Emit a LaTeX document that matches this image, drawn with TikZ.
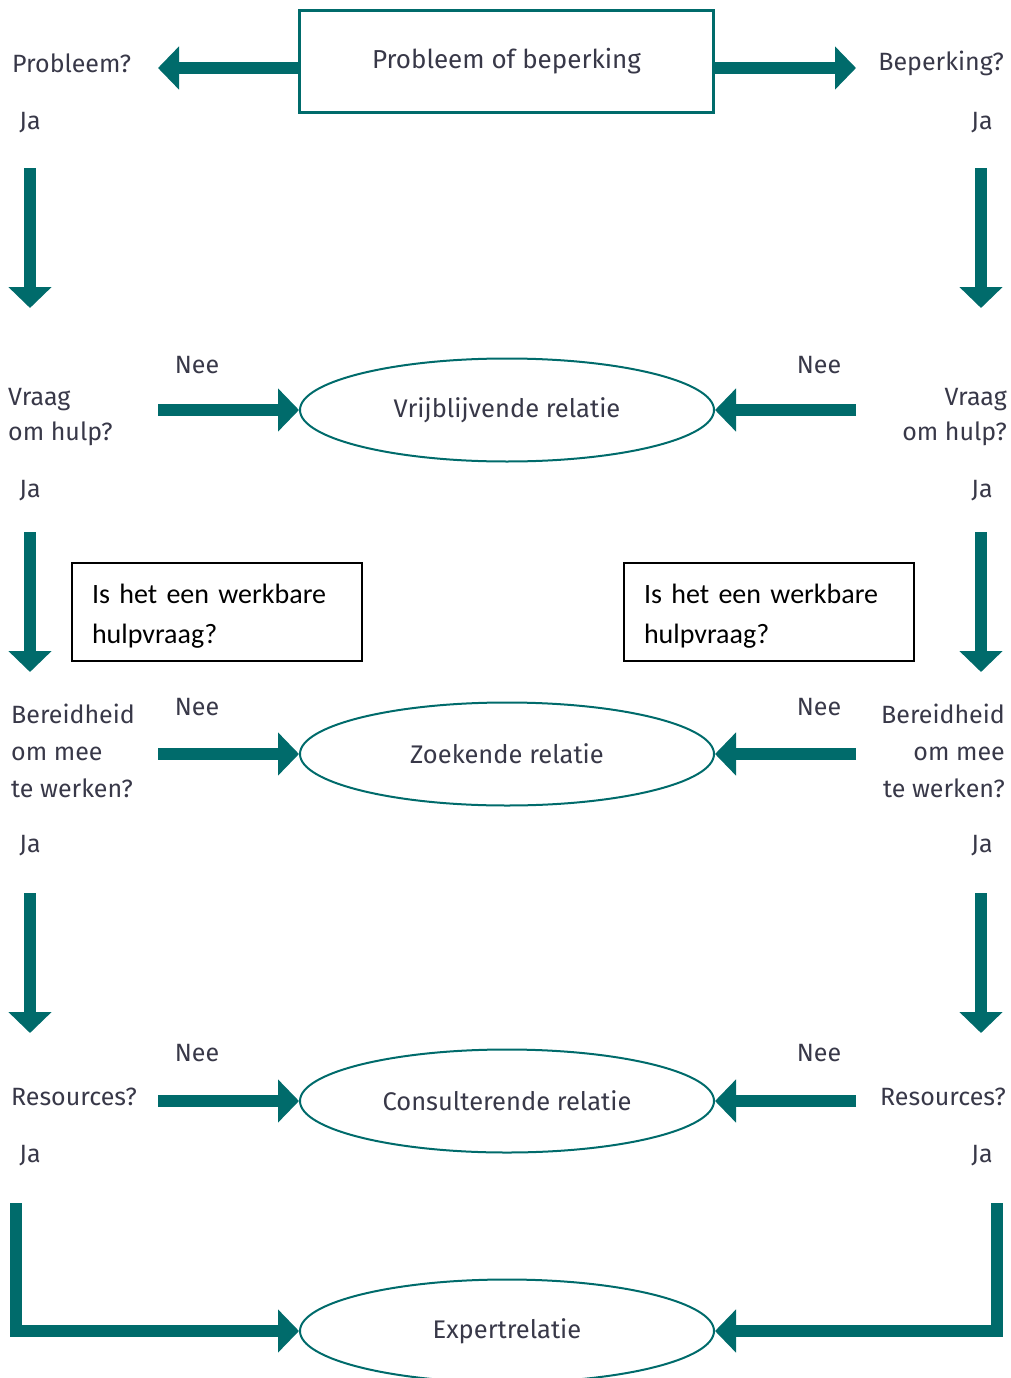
\documentclass[tikz,border=0pt]{standalone}
\usepackage{fontspec}
\setmainfont{Fira Sans}
\newfontfamily\calfont{Carlito}
\usetikzlibrary{arrows.meta,shapes.geometric}
\definecolor{teal1}{HTML}{006B6B}
\definecolor{txt}{HTML}{383848}
\tikzset{
  arr/.style={draw=teal1, line width=12pt, -{Triangle[width=42pt,length=21pt]}, line cap=butt, line join=miter},
  lbl/.style={text=txt, font=\fontsize{25}{36}\selectfont, inner sep=0pt},
  rel/.style={ellipse, draw=teal1, line width=2pt, minimum width=414pt, minimum height=103pt, text=txt, font=\fontsize{25.5}{30}\selectfont},
  qbox/.style={draw=black, line width=1.6pt, minimum width=290pt, minimum height=98pt, align=left, text width=250pt, font=\calfont\fontsize{28}{40}\selectfont, inner sep=0pt}
}
\begin{document}
\begin{tikzpicture}[x=1pt,y=-1pt]
\useasboundingbox (0,0) rectangle (1011,1378);
% top box
\node[draw=teal1, line width=3pt, minimum width=414pt, minimum height=102pt, text=txt, font=\fontsize{26}{30}\selectfont] (top) at (506.5,61.5) {\raisebox{-3pt}{Probleem of beperking}};
% relation ellipses
\node[rel] (r1) at (507,410) {\raisebox{-2pt}{Vrijblijvende relatie}};
\node[rel] (r2) at (507,754) {\raisebox{-2pt}{Zoekende relatie}};
\node[rel] (r3) at (507,1101) {\raisebox{-1pt}{Consulterende relatie}};
\node[rel] (r4) at (507,1331) {\raisebox{-2pt}{Expertrelatie}};
% question boxes
\node[qbox] (q1) at (217,612) {\strut Is het een werkbare\\hulpvraag?};
\node[qbox] (q2) at (769,612) {\strut Is het een werkbare\\hulpvraag?};
% labels left
\node[lbl, anchor=west] (pL) at (12,63) {Probleem?};
\node[lbl] (ja1) at (30,123) {Ja};
\node[lbl, anchor=north west, align=left, font=\fontsize{25}{35}\selectfont] (vL) at (8,388) {Vraag\\om hulp?};
\node[lbl] (neeL1) at (197,365) {Nee};
\node[lbl] (ja2) at (30,491) {Ja};
\node[lbl, anchor=north west, align=left, font=\fontsize{25}{37}\selectfont] (bL) at (11,704) {Bereidheid\\om mee\\te werken?};
\node[lbl] (neeL2) at (197,707) {Nee};
\node[lbl] (ja3) at (30,846) {Ja};
\node[lbl, anchor=west] (rsL) at (11,1097) {Resources?};
\node[lbl] (neeL3) at (197,1053) {Nee};
\node[lbl] (ja4) at (30,1156) {Ja};
% labels right
\node[lbl, anchor=east] (pR) at (1004,63) {Beperking?};
\node[lbl] (ja5) at (982,123) {Ja};
\node[lbl, anchor=north east, align=right, font=\fontsize{25}{35}\selectfont] (vR) at (1007,388) {Vraag\\om hulp?};
\node[lbl] (neeR1) at (819,365) {Nee};
\node[lbl] (ja6) at (982,491) {Ja};
\node[lbl, anchor=north east, align=right, font=\fontsize{25}{37}\selectfont] (bR) at (1005,704) {Bereidheid\\om mee\\te werken?};
\node[lbl] (neeR2) at (819,707) {Nee};
\node[lbl] (ja7) at (982,846) {Ja};
\node[lbl, anchor=east] (rsR) at (1006,1097) {Resources?};
\node[lbl] (neeR3) at (819,1053) {Nee};
\node[lbl] (ja8) at (982,1156) {Ja};
% coordinates
\coordinate (tL) at (158,68);
\coordinate (tR) at (856,68);
\coordinate (dL1s) at (30,168); \coordinate (dL1e) at (30,308);
\coordinate (dR1s) at (981,168); \coordinate (dR1e) at (981,308);
\coordinate (dL2s) at (30,532); \coordinate (dL2e) at (30,672);
\coordinate (dR2s) at (981,532); \coordinate (dR2e) at (981,672);
\coordinate (dL3s) at (30,893); \coordinate (dL3e) at (30,1033);
\coordinate (dR3s) at (981,893); \coordinate (dR3e) at (981,1033);
\coordinate (hL1) at (158,410); \coordinate (hR1) at (856,410);
\coordinate (hL2) at (158,754); \coordinate (hR2) at (856,754);
\coordinate (hL3) at (158,1101); \coordinate (hR3) at (856,1101);
\coordinate (bLs) at (16,1203); \coordinate (bRs) at (997,1203);
% arrows
\draw[arr] (top.west |- tL) -- (tL);
\draw[arr] (top.east |- tR) -- (tR);
\draw[arr] (dL1s) -- (dL1e);
\draw[arr] (dR1s) -- (dR1e);
\draw[arr] (dL2s) -- (dL2e);
\draw[arr] (dR2s) -- (dR2e);
\draw[arr] (dL3s) -- (dL3e);
\draw[arr] (dR3s) -- (dR3e);
\draw[arr] (hL1) -- (r1.west);
\draw[arr] (hR1) -- (r1.east);
\draw[arr] (hL2) -- (r2.west);
\draw[arr] (hR2) -- (r2.east);
\draw[arr] (hL3) -- (r3.west);
\draw[arr] (hR3) -- (r3.east);
\draw[arr] (bLs) |- (r4.west);
\draw[arr] (bRs) |- (r4.east);
\end{tikzpicture}
\end{document}
